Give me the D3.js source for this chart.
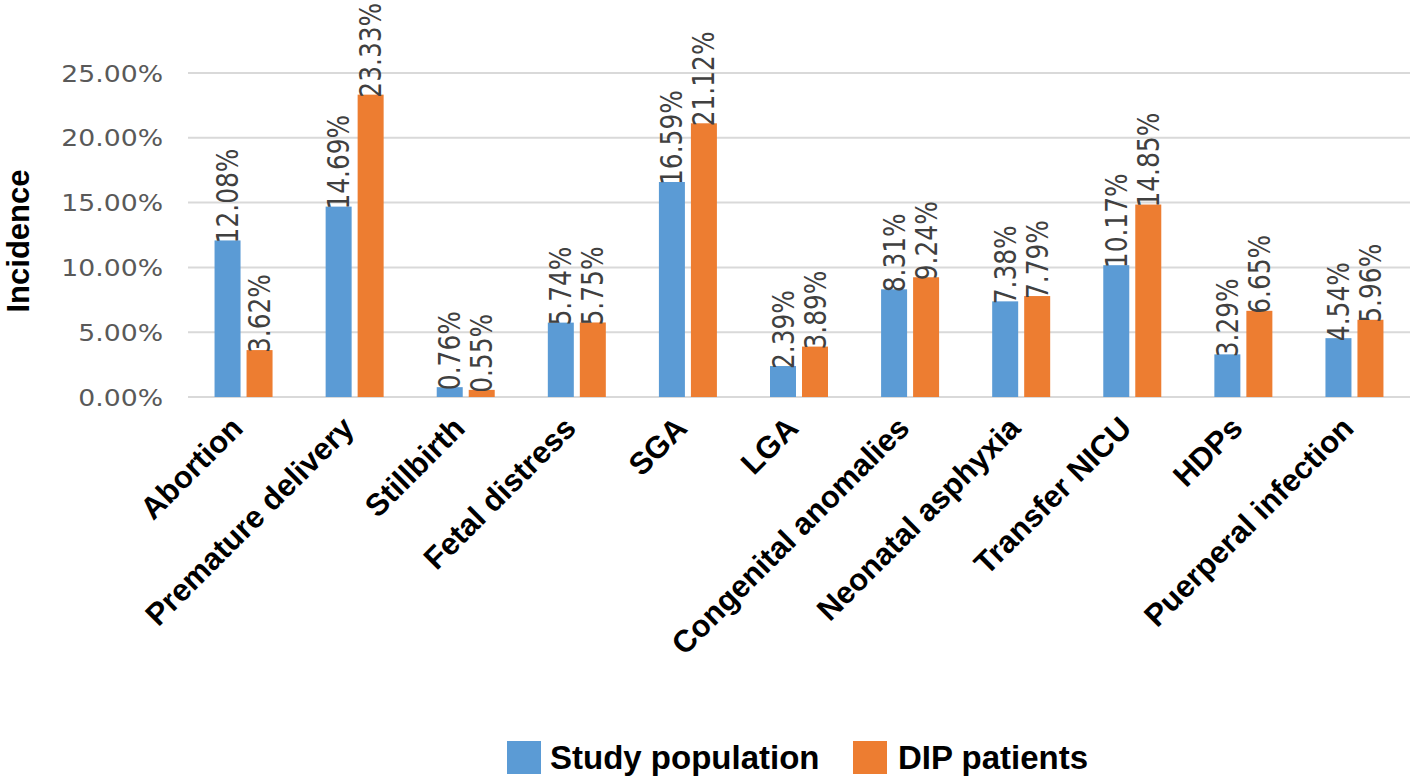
<!DOCTYPE html>
<html><head><meta charset="utf-8">
<script src="https://cdn.jsdelivr.net/npm/d3@7"></script>
<style>body{margin:0;background:#fff}</style>
</head><body>
<svg id="c" width="1416" height="780"></svg>
<script>
const categories = ["Abortion","Premature delivery","Stillbirth","Fetal distress","SGA","LGA","Congenital anomalies","Neonatal asphyxia","Transfer NICU","HDPs","Puerperal infection"];
const studyPopulation = [12.08,14.69,0.76,5.74,16.59,2.39,8.31,7.38,10.17,3.29,4.54];
const dipPatients = [3.62,23.33,0.55,5.75,21.12,3.89,9.24,7.79,14.85,6.65,5.96];
const seriesNames = ["Study population","DIP patients"];
const yTicks = [0,5,10,15,20,25];
const colors = ["#5B9BD5","#ED7D31"];

const svg = d3.select("#c");
const m = {left:188, right:1410, top:73, bottom:397};
const x = d3.scaleBand().domain(categories).range([m.left,m.right]).paddingInner(0).paddingOuter(0);
const y = d3.scaleLinear().domain([0,25]).range([m.bottom,m.top]);

// gridlines
svg.append("g").selectAll("line").data(yTicks).join("line")
  .attr("x1",m.left).attr("x2",m.right)
  .attr("y1",d=>y(d)).attr("y2",d=>y(d))
  .attr("stroke","#d9d9d9").attr("stroke-width",2);

// y tick labels
svg.append("g").selectAll("text").data(yTicks).join("text")
  .attr("transform",d=>`translate(163,${y(d)+8.5}) scale(1.16,1)`)
  .attr("text-anchor","end")
  .attr("font-family","DejaVu Sans").attr("font-size",23).attr("fill","#595959")
  .text(d=>d.toFixed(2)+"%");

// y title
svg.append("text").attr("transform","translate(29,241) rotate(-90)")
  .attr("text-anchor","middle").attr("font-family","Liberation Sans, Arial").attr("font-weight","bold")
  .attr("font-size",31).attr("fill","#000").text("Incidence");

const bw = 26, gap = 6;
const series = [studyPopulation, dipPatients];
series.forEach((vals,si)=>{
  const g = svg.append("g");
  const off = si===0 ? -(bw+gap/2) : gap/2;
  g.selectAll("rect").data(vals).join("rect")
    .attr("x",(d,i)=>x(categories[i])+x.bandwidth()/2+off)
    .attr("width",bw)
    .attr("y",d=>y(d)).attr("height",d=>y(0)-y(d))
    .attr("fill",colors[si]);
  g.selectAll("text").data(vals).join("text")
    .attr("transform",(d,i)=>`translate(${x(categories[i])+x.bandwidth()/2+off+bw-2.5},${y(d)+3}) rotate(-90) scale(0.83,1)`)
    .attr("font-family","DejaVu Sans").attr("font-size",30).attr("fill","#404040")
    .text(d=>d.toFixed(2)+"%");
});

// x labels
svg.append("g").selectAll("text").data(categories).join("text")
  .attr("transform",d=>`translate(${x(d)+x.bandwidth()/2+1},${430}) rotate(-45)`)
  .attr("text-anchor","end")
  .attr("font-family","Liberation Sans, Arial").attr("font-weight","bold").attr("font-size",31)
  .attr("fill","#000").text(d=>d);

// legend
const lg = svg.append("g");
const lx = [507,853];
const tx = [550,898];
seriesNames.forEach((n,i)=>{
  lg.append("rect").attr("x",lx[i]).attr("y",741).attr("width",34).attr("height",33).attr("fill",colors[i]);
  lg.append("text").attr("x",tx[i]).attr("y",769)
    .attr("font-family","Liberation Sans, Arial").attr("font-weight","bold").attr("font-size",33)
    .attr("fill","#000").text(n);
});
</script>
</body></html>
